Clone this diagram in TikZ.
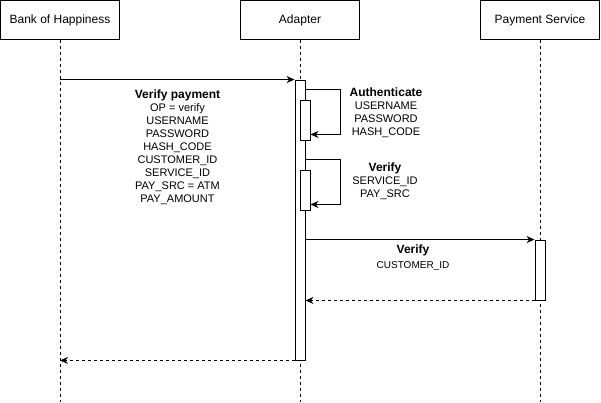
\documentclass[tikz,border=0pt]{standalone}
\usepackage{fontspec}
\setmainfont{Liberation Sans}
\usetikzlibrary{arrows.meta}

\begin{document}
\begin{tikzpicture}[
        x=1pt,
        y=-1pt,
        line width=0.9pt,
        actor/.style={
                draw,
                minimum width=119pt,
                minimum height=39pt,
                inner sep=0pt,
                font=\fontsize{12}{14}\selectfont
                },
        bar/.style={
                draw,
                fill=white,
                minimum width=10pt,
                inner sep=0pt
                },
        lifeline/.style={
                dash pattern=on 3pt off 3pt,
                line width=0.8pt
                },
        msg/.style={
                -{Stealth[length=8pt,width=7pt]}
                },
        reply/.style={
                msg,
                dash pattern=on 3pt off 3pt
                },
        note/.style={
                align=center,
                anchor=north,
                inner sep=0pt,
                font=\fontsize{11}{13}\selectfont
                }
        ]

\useasboundingbox (0,0) rectangle (601,402);
\coordinate (bottom) at (0,402);

%participants
\node[actor] (bank) at (60,20) {Bank of Happiness};
\node[actor] (adapter) at (300,20) {Adapter};
\node[actor] (payment) at (540,20) {Payment Service};

%lifelines
\draw[lifeline] (bank.south) -- (bank |- bottom);
\draw[lifeline] (adapter.south) -- (adapter |- bottom);
\draw[lifeline] (payment.south) -- (payment |- bottom);

%activations
\node[
        bar,
        minimum height=280pt
        ] 
        (adbar) at (300,220) {};
\node[
        bar,
        minimum height=40pt
        ] 
        (authbar) at (305,120) {};
\node[
        bar,
        minimum height=40pt
        ] 
        (verbar) at (305,190) {};
\node[
        bar,
        minimum height=60pt
        ] 
        (paybar) at (540,270) {};

%verify payment
\draw[msg] (bank |- adbar.north) -- (adbar.north west);
\node[note] (vplabel) at (177.5,89)
        {{\bfseries\fontsize{12}{13}\selectfont Verify payment}\\
        OP = verify\\ USERNAME\\ PASSWORD\\ HASH\_CODE\\ CUSTOMER\_ID\\
        SERVICE\_ID\\ PAY\_SRC = ATM\\ PAY\_AMOUNT};

%authenticate
\draw[msg] ([yshift=-10pt]adbar.north east) -- ++(35,0) 
        |- ([yshift=6pt]authbar.south east);
\node[note] (authlabel) at (386,87)
        {{\bfseries\fontsize{12}{13}\selectfont Authenticate}\\
        USERNAME\\ PASSWORD\\ HASH\_CODE};

%verify source
\draw[msg] ([yshift=-80pt]adbar.north east) -- ++(35,0) 
        |- ([yshift=6pt]verbar.south east);
\node[note] (verlabel) at (385,162)
        {{\bfseries\fontsize{12}{13}\selectfont Verify}\\
        SERVICE\_ID\\ PAY\_SRC};

%verify customer
\draw[msg] (adbar.east |- paybar.north) -- (paybar.north west);
\node[note] (custlabel) at (413,244)
        {{\bfseries\fontsize{12}{13}\selectfont Verify}\\[2pt]
        {\fontsize{10}{12}\selectfont CUSTOMER\_ID}};

%replies
\draw[reply] (paybar.south west) -- (adbar.east |- paybar.south);
\draw[reply] (adbar.south west) -- (bank |- adbar.south);

\end{tikzpicture}
\end{document}
